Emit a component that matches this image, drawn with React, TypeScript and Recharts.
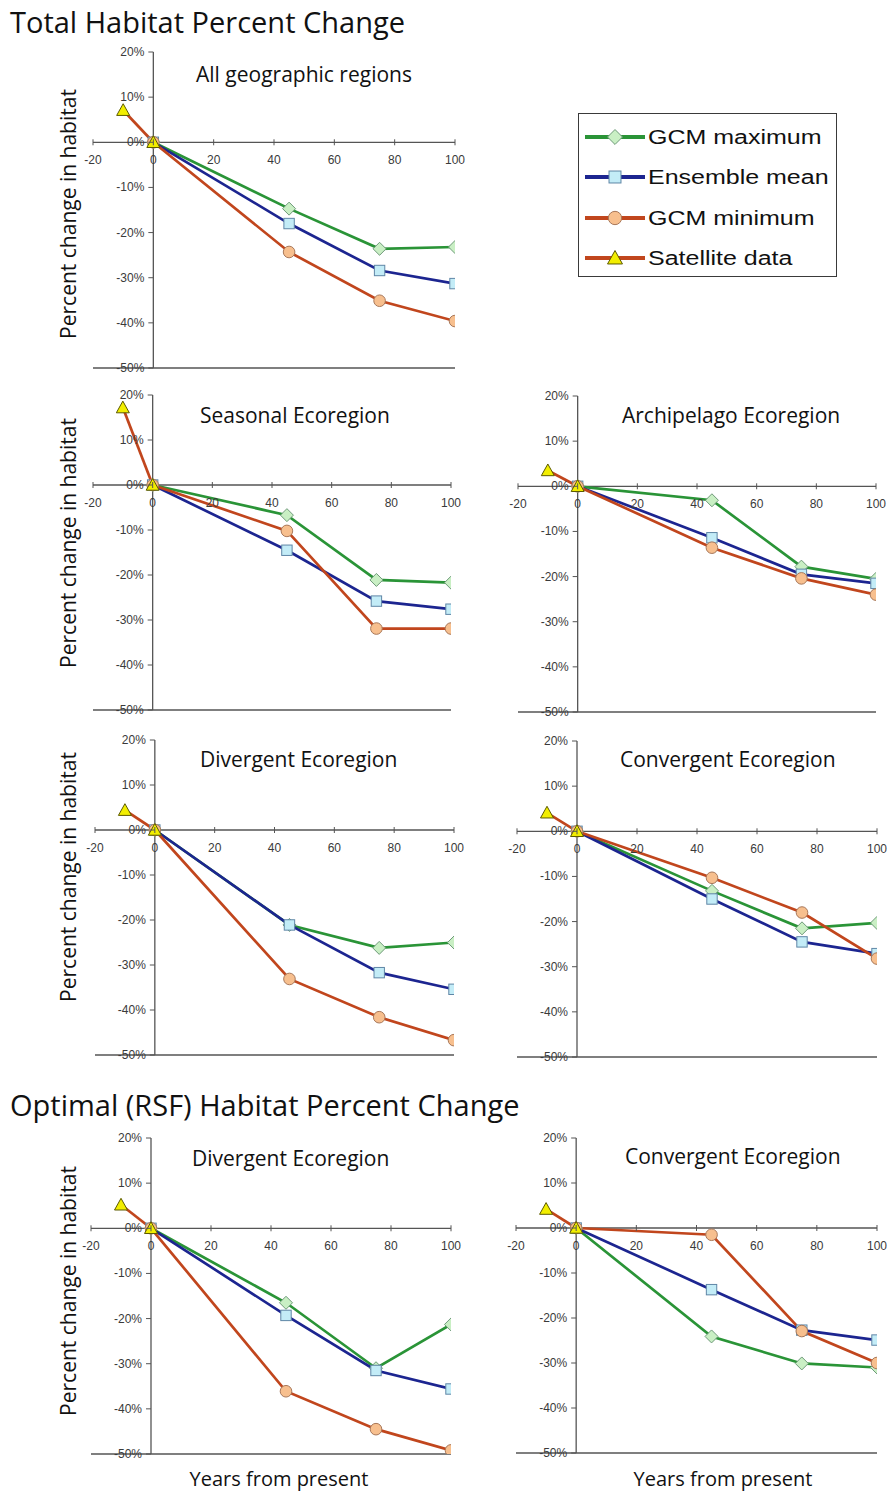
import React from 'react';
import { LineChart, Line, XAxis, YAxis, ReferenceLine, Legend } from 'recharts';

// ---------- data ----------
const YEARS = [-10, 0, 45, 75, 100];
const X_TICKS = [-20, 0, 20, 40, 60, 80, 100];
const Y_TICKS = [20, 10, 0, -10, -20, -30, -40, -50];

// Satellite values at years -10, 0; projections at years 0, 45, 75, 100
const allSat = [7.1, 0];
const allMax = [0, -14.7, -23.6, -23.2];
const allMean = [0, -18.0, -28.4, -31.3];
const allMin = [0, -24.3, -35.1, -39.6];

const seasSat = [17.2, 0];
const seasMax = [0, -6.7, -21.1, -21.7];
const seasMean = [0, -14.5, -25.8, -27.6];
const seasMin = [0, -10.2, -31.9, -31.9];

const archSat = [3.5, 0];
const archMax = [0, -3.1, -17.8, -20.5];
const archMean = [0, -11.4, -19.5, -21.5];
const archMin = [0, -13.6, -20.4, -24.0];

const divSat = [4.4, 0];
const divMax = [0, -21.1, -26.2, -25.0];
const divMean = [0, -21.1, -31.7, -35.4];
const divMin = [0, -33.1, -41.6, -46.7];

const convSat = [4.1, 0];
const convMax = [0, -13.2, -21.5, -20.3];
const convMean = [0, -15.0, -24.5, -27.1];
const convMin = [0, -10.3, -18.0, -28.2];

const optDivSat = [5.2, 0];
const optDivMax = [0, -16.5, -31.0, -21.3];
const optDivMean = [0, -19.3, -31.5, -35.6];
const optDivMin = [0, -36.1, -44.5, -49.2];

const optConvSat = [4.2, 0];
const optConvMax = [0, -24.1, -30.1, -31.0];
const optConvMean = [0, -13.7, -22.7, -24.9];
const optConvMin = [0, -1.5, -22.9, -30.0];

// ---------- styles ----------
const AXIS = '#555555';
const TICK_FONT = '"Liberation Sans", Arial, sans-serif';
const TITLE_FONT = '"Open Sans", "Noto Sans", sans-serif';

const SERIES = [
  { key: 'max', name: 'GCM maximum', color: '#2a9437', shape: 'diamond' },
  { key: 'mean', name: 'Ensemble mean', color: '#1c2590', shape: 'square' },
  { key: 'min', name: 'GCM minimum', color: '#c1461d', shape: 'circle' },
  { key: 'sat', name: 'Satellite data', color: '#c1461d', shape: 'triangle' },
];

function buildRows(sat: number[], max: number[], mean: number[], min: number[]) {
  return YEARS.map((year, i) => ({
    year,
    sat: i < sat.length ? sat[i] : null,
    max: i >= 1 ? max[i - 1] : null,
    mean: i >= 1 ? mean[i - 1] : null,
    min: i >= 1 ? min[i - 1] : null,
  }));
}

const PANELS = [
  { id: 'all', rows: buildRows(allSat, allMax, allMean, allMin), rect: { left: 93, top: 52, w: 362, h: 316 }, legend: true },
  { id: 'seas', rows: buildRows(seasSat, seasMax, seasMean, seasMin), rect: { left: 93, top: 395, w: 358, h: 315 } },
  { id: 'arch', rows: buildRows(archSat, archMax, archMean, archMin), rect: { left: 518, top: 396, w: 358, h: 316 } },
  { id: 'div', rows: buildRows(divSat, divMax, divMean, divMin), rect: { left: 95, top: 740, w: 359, h: 315 } },
  { id: 'conv', rows: buildRows(convSat, convMax, convMean, convMin), rect: { left: 517, top: 741, w: 360, h: 316 } },
  { id: 'odiv', rows: buildRows(optDivSat, optDivMax, optDivMean, optDivMin), rect: { left: 91, top: 1138, w: 360, h: 316 } },
  { id: 'oconv', rows: buildRows(optConvSat, optConvMax, optConvMean, optConvMin), rect: { left: 516, top: 1138, w: 361, h: 315 } },
];

const TEXTS = [
  { t: 'Total Habitat Percent Change', x: 10, y: 33, size: 29, anchor: 'start' },
  { t: 'Optimal (RSF) Habitat Percent Change', x: 10, y: 1116, size: 29, anchor: 'start' },
  { t: 'All geographic regions', x: 196, y: 82, size: 21, anchor: 'start' },
  { t: 'Seasonal Ecoregion', x: 200, y: 423, size: 21, anchor: 'start' },
  { t: 'Archipelago Ecoregion', x: 622, y: 423, size: 21, anchor: 'start' },
  { t: 'Divergent Ecoregion', x: 200, y: 767, size: 21, anchor: 'start' },
  { t: 'Convergent Ecoregion', x: 620, y: 767, size: 21, anchor: 'start' },
  { t: 'Divergent Ecoregion', x: 192, y: 1166, size: 21, anchor: 'start' },
  { t: 'Convergent Ecoregion', x: 625, y: 1164, size: 21, anchor: 'start' },
  { t: 'Years from present', x: 279, y: 1486, size: 20, anchor: 'middle' },
  { t: 'Years from present', x: 723, y: 1486, size: 20, anchor: 'middle' },
];

const Y_LABELS = [214, 543, 877, 1291];

// ---------- markers ----------
function Marker({ shape, cx, cy, s = 1 }: any) {
  if (shape === 'diamond') {
    const r = 6.5 * s;
    return <polygon points={`${cx},${cy - r} ${cx + r},${cy} ${cx},${cy + r} ${cx - r},${cy}`} fill="#c9efc4" stroke="#6f9a7a" strokeWidth={1} />;
  }
  if (shape === 'square') {
    const r = 5.2 * s;
    return <rect x={cx - r} y={cy - r} width={2 * r} height={2 * r} fill="#c3ecf7" stroke="#5f86a6" strokeWidth={1} />;
  }
  if (shape === 'circle') {
    return <circle cx={cx} cy={cy} r={5.8 * s} fill="#f7bf8e" stroke="#a8785a" strokeWidth={1} />;
  }
  const r = 6.5 * s;
  return <polygon points={`${cx},${cy - r} ${cx + r},${cy + r * 0.8} ${cx - r},${cy + r * 0.8}`} fill="#f2ee00" stroke="#5c5a00" strokeWidth={1} />;
}

const makeDot = (shape: string) => (p: any) => {
  const k = `d-${shape}-${p.index}`;
  if (p.cx == null || p.cy == null || p.value == null || (Array.isArray(p.value) && p.value[1] == null)) return <g key={k} />;
  return <Marker key={k} shape={shape} cx={p.cx} cy={p.cy} />;
};

// ---------- ticks (axes cross at 0) ----------
const makeXTick = (shift: number) => (props: any) => {
  const { x, y, payload } = props;
  const ay = y - shift;
  return (
    <g>
      <line x1={x} x2={x} y1={ay - 3} y2={ay + 3} stroke={AXIS} strokeWidth={1} />
      <text x={x} y={ay + 22} textAnchor="middle" fontSize={12} fill="#3a3a3a" fontFamily={TICK_FONT}>
        {payload.value}
      </text>
    </g>
  );
};

const makeYTick = (shift: number) => (props: any) => {
  const { x, y, payload } = props;
  const ax = x + shift;
  return (
    <g>
      <line x1={ax - 5} x2={ax} y1={y} y2={y} stroke={AXIS} strokeWidth={1} />
      <text x={ax - 9} y={y + 4} textAnchor="end" fontSize={12} fill="#3a3a3a" fontFamily={TICK_FONT}>
        {`${payload.value}%`}
      </text>
    </g>
  );
};

// ---------- legend ----------
const LEGEND_ROWS = [24, 64, 105, 145];
function LegendBox() {
  return (
    <svg width={260} height={165} style={{ display: 'block' }}>
      <rect x={0.5} y={0.5} width={258} height={163} fill="#ffffff" stroke="#3a3a3a" strokeWidth={1} />
      {SERIES.map((s, i) => {
        const cy = LEGEND_ROWS[i];
        return (
          <g key={s.key}>
            <line x1={7} x2={67} y1={cy} y2={cy} stroke={s.color} strokeWidth={4} />
            <Marker shape={s.shape} cx={37} cy={cy} s={1.15} />
            <text
              x={70}
              y={cy + 7}
              fontSize={20}
              fontFamily={TICK_FONT}
              fill="#111"
              transform={`translate(70 0) scale(1.25 1) translate(-70 0)`}
            >
              {s.name}
            </text>
          </g>
        );
      })}
    </svg>
  );
}

// ---------- panel ----------
const YW = 40;
const XH = 30;
const MT = 10;
const MR = 20;

function Panel({ p }: any) {
  const { left, top, w, h } = p.rect;
  const shiftX = (w * 20) / 120;
  const shiftY = (h * 50) / 70;
  const chartLeft = left - YW;
  const chartTop = top - MT;
  const width = p.legend ? 891 - chartLeft : w + YW + MR;
  const right = width - YW - w;
  return (
    <div style={{ position: 'absolute', left: chartLeft, top: chartTop }}>
      <LineChart width={width} height={h + MT + XH} data={p.rows} margin={{ top: MT, right, bottom: 0, left: 0 }}>
        <XAxis
          dataKey="year"
          type="number"
          domain={[-20, 100]}
          ticks={X_TICKS}
          interval={0}
          height={XH}
          tickSize={0}
          tickMargin={0}
          axisLine={false}
          tickLine={false}
          tick={makeXTick(shiftY)}
          allowDataOverflow
        />
        <YAxis
          type="number"
          domain={[-50, 20]}
          ticks={Y_TICKS}
          interval={0}
          width={YW}
          tickSize={0}
          tickMargin={0}
          axisLine={false}
          tickLine={false}
          tick={makeYTick(shiftX)}
          allowDataOverflow
        />
        <ReferenceLine y={-50} stroke={AXIS} strokeWidth={1.3} />
        <ReferenceLine y={0} stroke={AXIS} strokeWidth={1.3} />
        <ReferenceLine x={0} stroke={AXIS} strokeWidth={1.3} />
        {SERIES.map((s) => (
          <Line
            key={s.key}
            dataKey={s.key}
            name={s.name}
            type="linear"
            stroke={s.color}
            strokeWidth={2.7}
            dot={makeDot(s.shape)}
            activeDot={false}
            connectNulls={false}
            isAnimationActive={false}
          />
        ))}
        {p.legend && (
          <Legend
            layout="vertical"
            align="center"
            verticalAlign="middle"
            content={() => <LegendBox />}
            wrapperStyle={{ position: 'absolute', left: 578 - chartLeft, top: 113 - chartTop, width: 260, height: 165 }}
          />
        )}
      </LineChart>
    </div>
  );
}

export default function App() {
  return (
    <div style={{ position: 'absolute', left: 0, top: 0, width: 891, height: 1495, overflow: 'hidden', background: '#ffffff' }}>
      <svg width={891} height={1495} style={{ position: 'absolute', left: 0, top: 0 }}>
        {TEXTS.map((t, i) => (
          <text key={i} x={t.x} y={t.y} fontSize={t.size} textAnchor={t.anchor as any} fontFamily={TITLE_FONT} fill="#111">
            {t.t}
          </text>
        ))}
        {Y_LABELS.map((cy, i) => (
          <text
            key={`yl${i}`}
            x={76}
            y={cy}
            fontSize={21}
            textAnchor="middle"
            fontFamily={TITLE_FONT}
            fill="#111"
            transform={`rotate(-90 76 ${cy})`}
          >
            Percent change in habitat
          </text>
        ))}
      </svg>
      {PANELS.map((p) => (
        <Panel key={p.id} p={p} />
      ))}
    </div>
  );
}
